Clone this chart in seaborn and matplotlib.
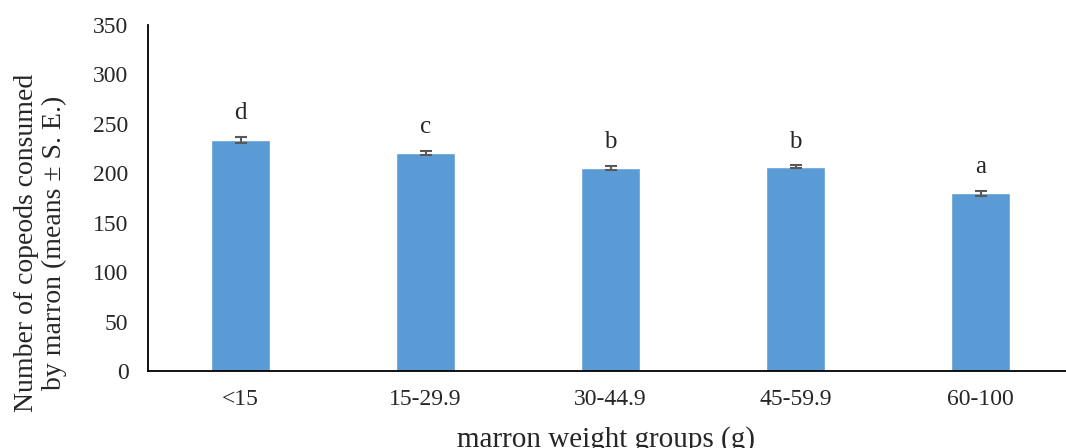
import seaborn as sns
import matplotlib.pyplot as plt
import pandas as pd

groups = ["<15", "15-29.9", "30-44.9", "45-59.9", "60-100"]
means = [233.5, 220.5, 205.5, 206.5, 180.0]
se = [3.0, 2.0, 2.0, 1.5, 2.5]
letters = ["d", "c", "b", "b", "a"]

df = pd.DataFrame({"group": groups, "mean": means})

sns.set_style("white")
plt.rcParams["font.family"] = ["Liberation Serif", "DejaVu Serif"]

DPI = 100
fig = plt.figure(figsize=(1066 / DPI, 448 / DPI), dpi=DPI)
ax = fig.add_axes([148 / 1066, 77 / 448, 925 / 1066, 346 / 448])

sns.barplot(data=df, x="group", y="mean", color="#5B9BD5", saturation=1,
            width=0.314, errorbar=None, ax=ax)
ax.errorbar(range(len(groups)), means, yerr=se, fmt="none",
            ecolor="#595959", elinewidth=1.5, capsize=4.3, capthick=1.5)

for i, (m, s, l) in enumerate(zip(means, se, letters)):
    ax.text(i, m + s + 13, l, ha="center", va="bottom", fontsize=18)

ax.set_ylim(0, 350)
ax.set_xlim(-0.5, len(groups) - 0.5)
ax.set_yticks(range(0, 351, 50))
sns.despine(ax=ax)
for sp in ["left", "bottom"]:
    ax.spines[sp].set_color("black")
    ax.spines[sp].set_linewidth(1.3)
ax.tick_params(axis="y", direction="out", length=5, width=1.3, labelsize=17, pad=9)
ax.tick_params(axis="x", length=0, labelsize=17, pad=13)

ax.set_xlabel("marron weight groups (g)", fontsize=21)
ax.set_ylabel("Number of copeods consumed\nby marron (means \u00b1 S. E.)", fontsize=20,
              linespacing=1.15)
ax.xaxis.set_label_coords(0.495, -0.158)
ax.yaxis.set_label_coords(-0.088, 0.37)

plt.savefig("out.png", dpi=DPI)
plt.close()
